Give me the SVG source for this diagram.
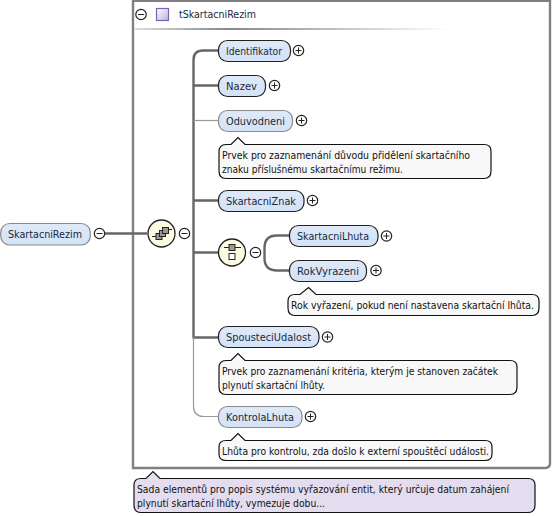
<svg xmlns="http://www.w3.org/2000/svg" width="553" height="516" viewBox="0 0 553 516">
<style>
text{font-family:"DejaVu Sans",Verdana,sans-serif;font-size:10.5px;fill:#1a2a3a}
.n{font-size:10px;fill:#111}
.req{fill:url(#nf);stroke:#222;stroke-width:1.2}
.opt{fill:url(#nf);stroke:#8a8a8a;stroke-width:1.2}
.note{fill:#f8f8f8;stroke:#111;stroke-width:1.2}
.mnote{fill:#e3ddef;stroke:#111;stroke-width:1.2}
.ic{fill:#fff;stroke:#222;stroke-width:1.2}
.sg{fill:none;stroke:#222;stroke-width:1}
.th{fill:none;stroke:#666;stroke-width:2.400}
.tn{fill:none;stroke:#999;stroke-width:1.2}
.comp{fill:#fbfbe4;stroke:#222;stroke-width:1.3}
.b{fill:#999;stroke:#222;stroke-width:1}
</style>
<defs>
<linearGradient id="nf" x1="0" y1="0" x2="0" y2="1"><stop offset="0" stop-color="#dfe9f8"/><stop offset="1" stop-color="#d3e2f7"/></linearGradient>
<linearGradient id="band"><stop offset="0" stop-color="#ddd"/><stop offset="0.3" stop-color="#888"/><stop offset="1" stop-color="#fff"/></linearGradient>
<linearGradient id="sq" x1="0" y1="0" x2="1" y2="1"><stop offset="0" stop-color="#fff"/><stop offset="1" stop-color="#bdb0dc"/></linearGradient>
<g id="minus"><circle r="5.2" class="ic"/><path d="M-3 0H3" class="sg"/></g>
<g id="plus"><circle r="5.2" class="ic"/><path d="M-3 0H3M0-3V3" class="sg"/></g>
</defs>

<g id="type-frame">
<path d="M133 0V468H545Q550 468 550 463V0" fill="#fff" stroke="#808080" stroke-width="2.4"/>
<path d="M133 1H550" stroke="#808080" stroke-width="2" fill="none"/>
<rect x="135" y="28" width="315" height="2" fill="url(#band)"/>
<use href="#minus" x="141" y="14.500"/>
<rect x="156.500" y="8.500" width="12" height="12" fill="url(#sq)" stroke="#7a62b4" stroke-width="1.2"/>
<text x="179" y="18" textLength="77" lengthAdjust="spacingAndGlyphs">tSkartacniRezim</text>
</g>

<g id="connectors">
<path d="M105 233.500H147" class="th"/>
<path d="M218 50.500H203Q193.500 50.500 193.500 60V337.500H218" class="th"/>
<path d="M193.500 85.500H218M193.500 200.500H218M193.500 252.500H218" class="th"/>
<path d="M193.500 120.500H218" class="tn"/>
<path d="M193.500 337V406Q193.500 416.500 204 416.500H218" class="tn"/>
<path d="M289 235.500H277Q264.500 235.500 264.500 248V258Q264.500 270.500 277 270.500H289" class="th"/>
</g>

<g id="SkartacniRezim"><rect x="0.700" y="223.500" width="89.600" height="21.500" rx="9" class="opt"/><text x="8" y="238" textLength="74" lengthAdjust="spacingAndGlyphs">SkartacniRezim</text><use href="#minus" x="99.500" y="233.500"/></g>

<g id="sequence"><circle cx="161.500" cy="233.500" r="13.500" class="comp"/>
<path d="M152 236.500H156M168 229.500H172" class="sg" stroke-width="1.500"/>
<rect x="156" y="233.500" width="6" height="6" class="b"/><rect x="159.500" y="230.500" width="6" height="6" class="b"/><rect x="162.500" y="227.500" width="6" height="6" class="b"/>
<use href="#minus" x="184.500" y="233.500"/></g>

<g id="choice"><circle cx="232" cy="252.500" r="13.500" class="comp"/>
<path d="M224 247.500H241" class="sg" stroke-width="1.500"/>
<rect x="229" y="244.500" width="6" height="6" class="b"/><rect x="229" y="253.500" width="6" height="6" fill="#fff" stroke="#222"/>
<use href="#minus" x="255.500" y="252.500"/></g>

<g id="Identifikator"><rect x="218.500" y="40.500" width="72" height="21" rx="9" class="req"/><text x="226" y="54.500" textLength="56" lengthAdjust="spacingAndGlyphs">Identifikator</text><use href="#plus" x="298.500" y="50.500"/></g>
<g id="Nazev"><rect x="218.500" y="75.500" width="47" height="21" rx="9" class="req"/><text x="226" y="90" textLength="31" lengthAdjust="spacingAndGlyphs">Nazev</text><use href="#plus" x="274.500" y="85.500"/></g>
<g id="Oduvodneni"><rect x="218.500" y="110.500" width="74" height="21" rx="9" class="opt"/><text x="226" y="125" textLength="59" lengthAdjust="spacingAndGlyphs">Oduvodneni</text><use href="#plus" x="301.500" y="120.500"/>
<path d="M219 152Q219 144.500 226 144.500H231L238 137.500L245 144.500H484Q491 144.500 491 151V171Q491 178.500 484 178.500H226Q219 178.500 219 171Z" class="note"/>
<text class="n" x="222" y="158.500" textLength="248" lengthAdjust="spacingAndGlyphs">Prvek pro zaznamenání důvodu přidělení skartačního</text>
<text class="n" x="222" y="172.500" textLength="181" lengthAdjust="spacingAndGlyphs">znaku příslušnému skartačnímu režimu.</text></g>
<g id="SkartacniZnak"><rect x="218.500" y="190.500" width="85.500" height="21" rx="9" class="req"/><text x="226" y="205" textLength="70" lengthAdjust="spacingAndGlyphs">SkartacniZnak</text><use href="#plus" x="312.500" y="200.500"/></g>
<g id="SkartacniLhuta"><rect x="289.500" y="225.500" width="88.500" height="21" rx="9" class="req"/><text x="297" y="240" textLength="72" lengthAdjust="spacingAndGlyphs">SkartacniLhuta</text><use href="#plus" x="386.500" y="236"/></g>
<g id="RokVyrazeni"><rect x="289.500" y="260.500" width="77" height="21" rx="9" class="req"/><text x="297" y="275" textLength="62" lengthAdjust="spacingAndGlyphs">RokVyrazeni</text><use href="#plus" x="376" y="270.500"/>
<path d="M288 301Q288 294.500 295 294.500H300L308.500 287.500L316 294.500H532Q539 294.500 539 301V308Q539 315.500 532 315.500H295Q288 315.500 288 308Z" class="note"/>
<text class="n" x="291" y="308.500" textLength="243" lengthAdjust="spacingAndGlyphs">Rok vyřazení, pokud není nastavena skartační lhůta.</text></g>
<g id="SpousteciUdalost"><rect x="218.500" y="326.500" width="100.500" height="21" rx="9" class="req"/><text x="226" y="341" textLength="85" lengthAdjust="spacingAndGlyphs">SpousteciUdalost</text><use href="#plus" x="327.500" y="337"/>
<path d="M219 368Q219 360.500 226 360.500H231L238 353.500L245 360.500H510Q517 360.500 517 367V387Q517 394.500 510 394.500H226Q219 394.500 219 387Z" class="note"/>
<text class="n" x="222" y="374.500" textLength="276" lengthAdjust="spacingAndGlyphs">Prvek pro zaznamenání kritéria, kterým je stanoven začátek</text>
<text class="n" x="222" y="388.500" textLength="103" lengthAdjust="spacingAndGlyphs">plynutí skartační lhůty.</text></g>
<g id="KontrolaLhuta"><rect x="218.500" y="406.500" width="83.500" height="21" rx="9" class="opt"/><text x="226" y="421" textLength="68" lengthAdjust="spacingAndGlyphs">KontrolaLhuta</text><use href="#plus" x="310.500" y="416.500"/>
<path d="M219 447Q219 440.500 226 440.500H231L238 433.500L245 440.500H485Q492 440.500 492 447V454Q492 460.500 485 460.500H226Q219 460.500 219 454Z" class="note"/>
<text class="n" x="222" y="454.500" textLength="267" lengthAdjust="spacingAndGlyphs">Lhůta pro kontrolu, zda došlo k externí spouštěcí události.</text></g>

<g id="type-note">
<path d="M134 485Q134 478.500 141 478.500H146L153 471.500L160 478.500H528Q535 478.500 535 485V505Q535 512.500 528 512.500H141Q134 512.500 134 505Z" class="mnote"/>
<text class="n" x="137" y="492.500" textLength="372" lengthAdjust="spacingAndGlyphs">Sada elementů pro popis systému vyřazování entit, který určuje datum zahájení</text>
<text class="n" x="137" y="506.500" textLength="188" lengthAdjust="spacingAndGlyphs">plynutí skartační lhůty, vymezuje dobu...</text>
</g>
</svg>
